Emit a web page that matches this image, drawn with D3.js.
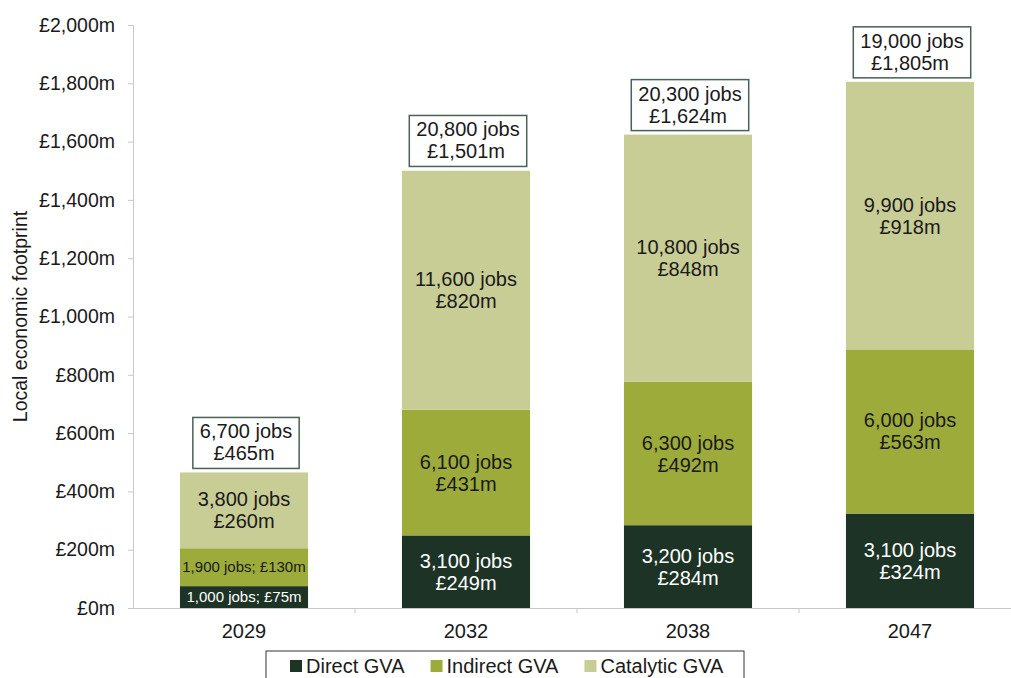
<!DOCTYPE html>
<html>
<head>
<meta charset="utf-8">
<script src="https://cdn.jsdelivr.net/npm/d3@7"></script>
<style>
  body { margin: 0; background: #fff; }
  svg text { font-family: 'Liberation Sans', Arial, sans-serif; }
</style>
</head>
<body>
<div id="chart"></div>
<script>
// Chart data
const years = ['2029', '2032', '2038', '2047'];
const directGVA = [75, 249, 284, 324];
const indirectGVA = [130, 431, 492, 563];
const catalyticGVA = [260, 820, 848, 918];
const directJobs = [1000, 3100, 3200, 3100];
const indirectJobs = [1900, 6100, 6300, 6000];
const catalyticJobs = [3800, 11600, 10800, 9900];
const totalGVA = [465, 1501, 1624, 1805];
const totalJobs = [6700, 20800, 20300, 19000];
const seriesNames = ['Direct GVA', 'Indirect GVA', 'Catalytic GVA'];
const yTicks = [0, 200, 400, 600, 800, 1000, 1200, 1400, 1600, 1800, 2000];

const colors = ['#1d3326', '#9dab3b', '#c8cc95'];
const textColors = ['#ffffff', '#1a1a1a', '#1a1a1a'];

const width = 1011;
const height = 678;
const margin = { top: 25, right: -10, bottom: 70, left: 133 };

const svg = d3
  .select('#chart')
  .append('svg')
  .attr('width', width)
  .attr('height', height);

// Scales
const y = d3.scaleLinear().domain([0, 2000]).range([height - margin.bottom, margin.top]);
const x = d3
  .scaleBand()
  .domain(years)
  .range([margin.left, width - margin.right])
  .paddingInner(0.423)
  .paddingOuter(0.2115);

// Stack the three series
const rows = years.map((yr, i) => ({
  year: yr,
  s0: directGVA[i],
  s1: indirectGVA[i],
  s2: catalyticGVA[i],
}));
const jobs = [directJobs, indirectJobs, catalyticJobs];
const stacked = d3.stack().keys(['s0', 's1', 's2'])(rows);

const fmt = d3.format(',');

// Y axis
const yAxis = svg
  .append('g')
  .attr('transform', `translate(${margin.left},0)`)
  .call(
    d3
      .axisLeft(y)
      .tickValues(yTicks)
      .tickSize(5)
      .tickPadding(13)
      .tickFormat((d) => `£${fmt(d)}m`)
  );
yAxis.select('.domain').attr('stroke', '#c8c8c8');
yAxis.selectAll('.tick line').attr('stroke', '#c8c8c8');
yAxis.selectAll('text').style('font-size', '19.5px').attr('fill', '#1a1a1a');

// Axis title
svg
  .append('text')
  .attr('transform', `translate(27,${(y(0) + y(2000)) / 2}) rotate(-90)`)
  .attr('text-anchor', 'middle')
  .style('font-size', '19.5px')
  .attr('fill', '#1a1a1a')
  .text('Local economic footprint');

// X axis
const xAxis = svg
  .append('g')
  .attr('transform', `translate(0,${y(0)})`)
  .call(d3.axisBottom(x).tickSize(0).tickPadding(16));
xAxis.select('.domain').attr('stroke', '#c8c8c8');
xAxis.selectAll('text').style('font-size', '20px').attr('fill', '#1a1a1a');
// boundary ticks between categories
const step = x.step();
const bounds = d3.range(years.length + 1).map((i) => margin.left + i * step);
xAxis
  .selectAll('.bound')
  .data(bounds.slice(1))
  .enter()
  .append('line')
  .attr('x1', (d) => d)
  .attr('x2', (d) => d)
  .attr('y1', 0)
  .attr('y2', 5)
  .attr('stroke', '#c8c8c8');

// Bars
const layers = svg
  .selectAll('.layer')
  .data(stacked)
  .enter()
  .append('g')
  .attr('fill', (d, i) => colors[i]);

layers
  .selectAll('rect')
  .data((d) => d)
  .enter()
  .append('rect')
  .attr('x', (d) => x(d.data.year))
  .attr('y', (d) => y(d[1]))
  .attr('width', x.bandwidth())
  .attr('height', (d) => y(d[0]) - y(d[1]));

// Segment labels
stacked.forEach((layer, si) => {
  layer.forEach((d, i) => {
    const cx = x(d.data.year) + x.bandwidth() / 2;
    const cy = (y(d[0]) + y(d[1])) / 2;
    const h = y(d[0]) - y(d[1]);
    const jobsTxt = `${fmt(jobs[si][i])} jobs`;
    const gvaTxt = `£${fmt(d[1] - d[0])}m`;
    if (h < 50) {
      svg
        .append('text')
        .attr('x', cx)
        .attr('y', cy + 5)
        .attr('text-anchor', 'middle')
        .style('font-size', '15px')
        .attr('fill', textColors[si])
        .text(`${jobsTxt}; ${gvaTxt}`);
    } else {
      const t = svg
        .append('text')
        .attr('text-anchor', 'middle')
        .style('font-size', '20px')
        .attr('fill', textColors[si]);
      t.append('tspan').attr('x', cx).attr('y', cy - 4).text(jobsTxt);
      t.append('tspan').attr('x', cx).attr('y', cy + 18).text(gvaTxt);
    }
  });
});

// Total boxes
years.forEach((yr, i) => {
  const cx = x(yr) + x.bandwidth() / 2;
  const top = y(totalGVA[i]) - 4;
  const g = svg.append('g');
  const box = g.append('rect');
  const t = g
    .append('text')
    .attr('text-anchor', 'middle')
    .style('font-size', '20px')
    .attr('fill', '#1a1a1a');
  t.append('tspan').attr('x', cx + 2).attr('y', top - 30).text(`${fmt(totalJobs[i])} jobs`);
  t.append('tspan').attr('x', cx).attr('y', top - 8).text(`£${fmt(totalGVA[i])}m`);
  const bb = t.node().getBBox();
  box
    .attr('x', bb.x - 7)
    .attr('y', top - 51)
    .attr('width', bb.width + 14)
    .attr('height', 51)
    .attr('fill', '#fff')
    .attr('stroke', '#4a6155')
    .attr('stroke-width', 1.5);
});

// Legend
const legend = svg.append('g');
const legendBox = legend.append('rect');
let lx = 290;
seriesNames.forEach((name, i) => {
  legend
    .append('rect')
    .attr('x', lx)
    .attr('y', 660)
    .attr('width', 12)
    .attr('height', 12)
    .attr('fill', colors[i]);
  const t = legend
    .append('text')
    .attr('x', lx + 16)
    .attr('y', 673)
    .style('font-size', '20px')
    .attr('fill', '#1a1a1a')
    .text(name);
  lx += 16 + t.node().getComputedTextLength() + 26;
});
legendBox
  .attr('x', 266)
  .attr('y', 651)
  .attr('width', 478)
  .attr('height', 45)
  .attr('fill', '#fff')
  .attr('stroke', '#333')
  .attr('stroke-width', 1);
</script>
</body>
</html>
